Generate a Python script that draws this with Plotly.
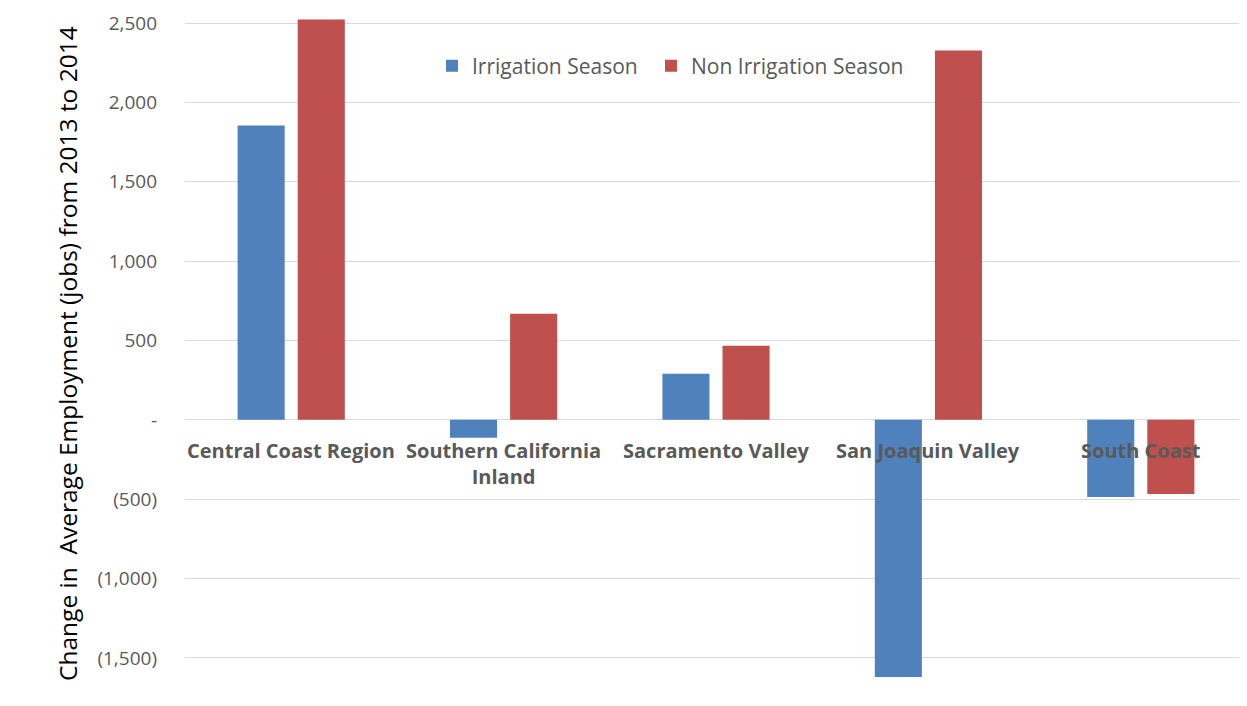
import plotly.graph_objects as go

categories = ["Central Coast Region", "Southern California<br>Inland", "Sacramento Valley",
              "San Joaquin Valley", "South Coast"]
irrigation = [1854, -113, 290, -1620, -486]
non_irrigation = [2522, 668, 467, 2327, -467]
tick_vals = [2500, 2000, 1500, 1000, 500, 0, -500, -1000, -1500]
tick_text = ["2,500", "2,000", "1,500", "1,000", "500", "-", "(500)", "(1,000)", "(1,500)"]

W, H = 1239, 698
L, B = 177, 6
PW, PH = W - L, H - B

fig = go.Figure()
fig.add_trace(go.Bar(x=categories, y=irrigation, name="Irrigation Season",
                     marker=dict(color="#4F81BD", line=dict(width=0)), legend="legend"))
fig.add_trace(go.Bar(x=categories, y=non_irrigation, name="Non Irrigation Season",
                     marker=dict(color="#C0504D", line=dict(width=0)), legend="legend2"))

for c in categories:
    fig.add_annotation(x=c, y=0, xref="x", yref="y", text=c, showarrow=False,
                       yanchor="top", yshift=-15,
                       font=dict(family="Open Sans", size=20, color="#595959", weight="bold"))

fig.add_annotation(xref="paper", yref="paper", x=(59 - L) / PW, y=0.5,
                   xanchor="center", yanchor="middle",
                   text="Change in  Average Employment (jobs) from 2013 to 2014",
                   textangle=-90, showarrow=False,
                   font=dict(family="Open Sans", size=24.5, color="#000000"))

leg_common = dict(orientation="h", xanchor="left", yanchor="middle",
                  font=dict(family="Open Sans", size=21, color="#595959"),
                  bgcolor="rgba(0,0,0,0)")

fig.update_layout(
    width=W, height=H,
    margin=dict(l=L, r=0, t=0, b=B),
    paper_bgcolor="white", plot_bgcolor="white",
    barmode="group", bargap=0.434, bargroupgap=0.217,
    showlegend=True,
    legend=dict(x=(424 - L) / PW, y=1 - 58 / PH, **leg_common),
    legend2=dict(x=(643 - L) / PW, y=1 - 58 / PH, **leg_common),
    xaxis=dict(showticklabels=False, showgrid=False, zeroline=False, showline=False,
               ticks=""),
    yaxis=dict(range=[-1765, 2595], tickvals=tick_vals, ticktext=tick_text,
               showgrid=True, gridcolor="#D9D9D9", gridwidth=1,
               zeroline=True, zerolinecolor="#D9D9D9", zerolinewidth=1,
               showline=False, ticks="", ticklabelstandoff=27,
               tickfont=dict(family="Open Sans", size=19, color="#595959")),
)

fig.write_html("out.html")
